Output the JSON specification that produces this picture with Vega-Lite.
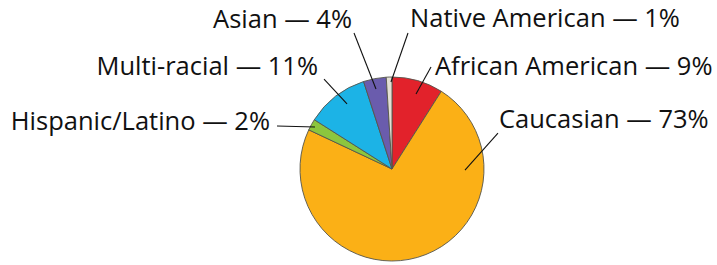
{
  "$schema": "https://vega.github.io/schema/vega-lite/v6.json",
  "width": 717,
  "height": 265,
  "autosize": {"type": "fit", "contains": "padding"},
  "padding": 0,
  "background": "white",
  "config": {"view": {"stroke": null}},
  "datasets": {
    "slices": [
      {"group": "African American", "pct": 9, "order": 1},
      {"group": "Caucasian", "pct": 73, "order": 2},
      {"group": "Hispanic/Latino", "pct": 2, "order": 3},
      {"group": "Multi-racial", "pct": 11, "order": 4},
      {"group": "Asian", "pct": 4, "order": 5},
      {"group": "Native American", "pct": 1, "order": 6}
    ],
    "labels": [
      {"label": "Asian — 4%", "side": "left", "tx": -0.435, "ty": 1.533, "lx1": -0.413, "ly1": 1.478, "lx2": -0.174, "ly2": 0.870},
      {"label": "Multi-racial — 11%", "side": "left", "tx": -0.804, "ty": 1.022, "lx1": -0.739, "ly1": 0.978, "lx2": -0.489, "ly2": 0.707},
      {"label": "Hispanic/Latino — 2%", "side": "left", "tx": -1.326, "ty": 0.424, "lx1": -1.25, "ly1": 0.467, "lx2": -0.837, "ly2": 0.457},
      {"label": "Native American — 1%", "side": "right", "tx": 0.196, "ty": 1.543, "lx1": 0.174, "ly1": 1.478, "lx2": -0.011, "ly2": 0.946},
      {"label": "African American — 9%", "side": "right", "tx": 0.467, "ty": 1.022, "lx1": 0.424, "ly1": 1.109, "lx2": 0.261, "ly2": 0.815},
      {"label": "Caucasian — 73%", "side": "right", "tx": 1.163, "ty": 0.446, "lx1": 1.152, "ly1": 0.391, "lx2": 0.793, "ly2": -0.011}
    ]
  },
  "layer": [
    {
      "data": {"name": "slices"},
      "mark": {"type": "arc", "radius": 92, "stroke": "#55554c", "strokeWidth": 0.9},
      "encoding": {
        "theta": {"field": "pct", "type": "quantitative", "stack": true},
        "order": {"field": "order", "type": "quantitative"},
        "x": {"datum": 0, "type": "quantitative", "scale": {"domain": [-4.2609, 3.5326], "nice": false, "zero": false}, "axis": null},
        "y": {"datum": 0, "type": "quantitative", "scale": {"domain": [-1.0435, 1.837], "nice": false, "zero": false}, "axis": null},
        "color": {
          "field": "group",
          "type": "nominal",
          "legend": null,
          "scale": {
            "domain": ["African American", "Caucasian", "Hispanic/Latino", "Multi-racial", "Asian", "Native American"],
            "range": ["#e2222b", "#fbb016", "#8cc63e", "#1cb3e6", "#6a5cad", "#e4e0d4"]
          }
        }
      }
    },
    {
      "data": {"name": "labels"},
      "mark": {"type": "rule", "color": "#111111", "strokeWidth": 1.1},
      "encoding": {
        "x": {"field": "lx1", "type": "quantitative", "scale": {"domain": [-4.2609, 3.5326], "nice": false, "zero": false}, "axis": null},
        "y": {"field": "ly1", "type": "quantitative", "scale": {"domain": [-1.0435, 1.837], "nice": false, "zero": false}, "axis": null},
        "x2": {"field": "lx2"},
        "y2": {"field": "ly2"}
      }
    },
    {
      "data": {"name": "labels"},
      "transform": [{"filter": "datum.side === 'left'"}],
      "mark": {"type": "text", "align": "right", "baseline": "alphabetic", "font": "Open Sans", "fontSize": 25.5, "color": "#111111"},
      "encoding": {
        "x": {"field": "tx", "type": "quantitative", "scale": {"domain": [-4.2609, 3.5326], "nice": false, "zero": false}, "axis": null},
        "y": {"field": "ty", "type": "quantitative", "scale": {"domain": [-1.0435, 1.837], "nice": false, "zero": false}, "axis": null},
        "text": {"field": "label"}
      }
    },
    {
      "data": {"name": "labels"},
      "transform": [{"filter": "datum.side === 'right'"}],
      "mark": {"type": "text", "align": "left", "baseline": "alphabetic", "font": "Open Sans", "fontSize": 25.5, "color": "#111111"},
      "encoding": {
        "x": {"field": "tx", "type": "quantitative", "scale": {"domain": [-4.2609, 3.5326], "nice": false, "zero": false}, "axis": null},
        "y": {"field": "ty", "type": "quantitative", "scale": {"domain": [-1.0435, 1.837], "nice": false, "zero": false}, "axis": null},
        "text": {"field": "label"}
      }
    }
  ]
}
